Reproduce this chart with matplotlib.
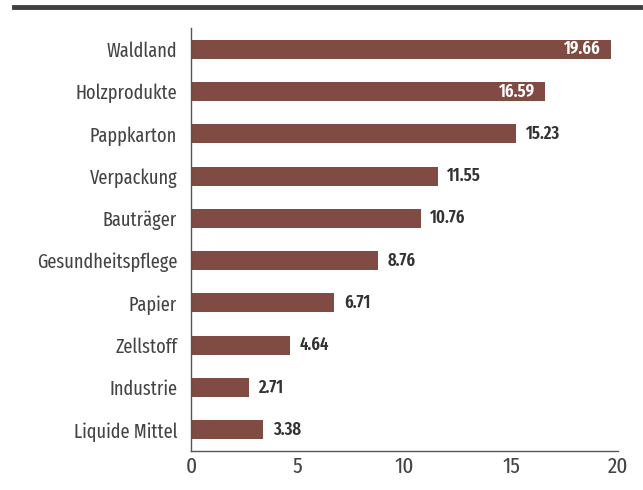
import matplotlib
matplotlib.use("Agg")
import matplotlib.pyplot as plt

categories = ["Waldland", "Holzprodukte", "Pappkarton", "Verpackung", "Bauträger",
              "Gesundheitspflege", "Papier", "Zellstoff", "Industrie", "Liquide Mittel"]
values = [19.66, 16.59, 15.23, 11.55, 10.76, 8.76, 6.71, 4.64, 2.71, 3.38]
xticks = [0, 5, 10, 15, 20]

plt.rcParams['font.family'] = ['Fira Sans Extra Condensed', 'DejaVu Sans']

bar_color = "#7f4b43"
label_color = "#444444"
value_color = "#333333"

fig = plt.figure(figsize=(6.43, 4.90), dpi=100)
ax = fig.add_axes([191/643, 1-451/490, (618-191)/643, (451-28)/490])

y = list(range(len(categories)))
ax.barh(y, values, height=0.45, color=bar_color)
ax.set_ylim(len(categories)-0.5, -0.5)
ax.set_xlim(0, 20)
ax.set_yticks(y)
ax.set_yticklabels(categories, fontsize=14.3, color=label_color, fontweight='normal')
ax.set_xticks(xticks)
ax.set_xticklabels([str(t) for t in xticks], fontsize=16.5, color=label_color, fontweight='normal')
ax.tick_params(axis='both', length=0)
ax.tick_params(axis='y', pad=10)
ax.tick_params(axis='x', pad=4)
for s in ['top', 'right']:
    ax.spines[s].set_visible(False)
for s in ['left', 'bottom']:
    ax.spines[s].set_color('#555555')
    ax.spines[s].set_linewidth(1.0)

for i, v in enumerate(values):
    if v > 16:
        ax.text(v - 0.45, i, f"{v:.2f}", ha='right', va='center', color='white',
                fontsize=13, fontweight='semibold')
    else:
        ax.text(v + 0.45, i, f"{v:.2f}", ha='left', va='center', color=value_color,
                fontsize=13, fontweight='semibold')

fig.add_artist(plt.Line2D([14/643, 640/643], [1-7/490, 1-7/490], color='#404040',
                          linewidth=3.5, transform=fig.transFigure))

fig.savefig("out.png", dpi=100)
